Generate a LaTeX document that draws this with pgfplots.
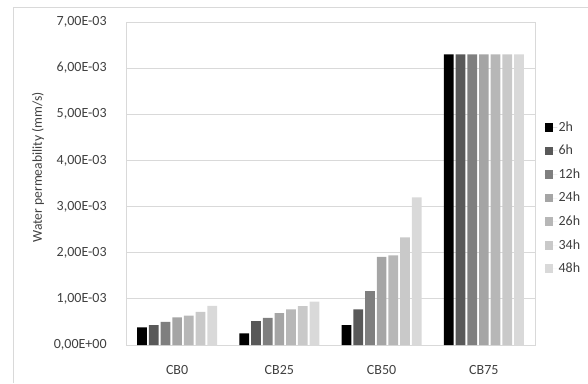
\documentclass[border=0pt]{standalone}
\usepackage{pgfplots}
\pgfplotsset{compat=1.18}
\usepackage{fontspec}
\setmainfont{Carlito}
\definecolor{gridc}{HTML}{D9D9D9}
\definecolor{txt}{HTML}{404040}
\definecolor{cA}{HTML}{000000}
\definecolor{cB}{HTML}{595959}
\definecolor{cC}{HTML}{7F7F7F}
\definecolor{cD}{HTML}{A5A5A5}
\definecolor{cE}{HTML}{B7B7B7}
\definecolor{cF}{HTML}{C9C9C9}
\definecolor{cG}{HTML}{D9D9D9}
\begin{document}
\begin{tikzpicture}
\begin{axis}[
  at={(94.5pt,28.5pt)}, anchor=south west,
  scale only axis, width=306.75pt, height=242.25pt,
  ybar=1.5pt, bar width=7.3pt,
  xmin=-0.5, xmax=3.5, ymin=0, ymax=0.007,
  xtick={0,1,2,3}, xticklabels={CB0,CB25,CB50,CB75},
  ytick={0,0.001,0.002,0.003,0.004,0.005,0.006,0.007},
  yticklabels={{0,00E+00},{1,00E-03},{2,00E-03},{3,00E-03},{4,00E-03},{5,00E-03},{6,00E-03},{7,00E-03}},
  scaled y ticks=false,
  ymajorgrids, grid style={gridc, line width=0.75pt},
  axis line style={gridc, line width=0.75pt},
  major tick length=0pt,
  tick label style={font=\fontsize{10.5}{12}\selectfont, text=txt},
  xticklabel style={anchor=center, yshift=-18.75pt},
  yticklabel style={anchor=east, xshift=-11pt},
  ylabel={Water permeability (mm/s)},
  ylabel style={font=\fontsize{10.2}{12}\selectfont, text=txt, at={(axis description cs:0,0.55)}, anchor=center, yshift=66pt},
  legend style={at={(1,0.455)}, anchor=west, xshift=7pt, draw=none, fill=none, inner sep=0pt,
    font=\fontsize{10.5}{12}\selectfont, text=txt, row sep=6.9pt,
    nodes={inner sep=1pt}},
  legend cell align=left,
  legend image code/.code={\path (0pt,0pt) -- (9.5pt,0pt);\fill[#1] (0pt,-3.25pt) rectangle (6.5pt,3.25pt);},
  every axis plot/.append style={draw=none},
]
\addplot[fill=cA] coordinates {(0,0.00038) (1,0.00025) (2,0.00043) (3,0.0063)};
\addplot[fill=cB] coordinates {(0,0.00043) (1,0.00052) (2,0.00077) (3,0.0063)};
\addplot[fill=cC] coordinates {(0,0.00050) (1,0.00059) (2,0.00117) (3,0.0063)};
\addplot[fill=cD] coordinates {(0,0.00060) (1,0.00069) (2,0.00191) (3,0.0063)};
\addplot[fill=cE] coordinates {(0,0.000635) (1,0.00077) (2,0.00194) (3,0.0063)};
\addplot[fill=cF] coordinates {(0,0.00072) (1,0.00084) (2,0.00233) (3,0.0063)};
\addplot[fill=cG] coordinates {(0,0.00085) (1,0.00094) (2,0.00320) (3,0.0063)};
\legend{2h,6h,12h,24h,26h,34h,48h}
\end{axis}
\pgfresetboundingbox
\useasboundingbox (0pt,0pt) rectangle (441pt,287.25pt);
\draw[gridc, line width=0.75pt] (9.75pt,0pt) -- (9.75pt,281.25pt) -- (441pt,281.25pt);
\end{tikzpicture}
\end{document}
